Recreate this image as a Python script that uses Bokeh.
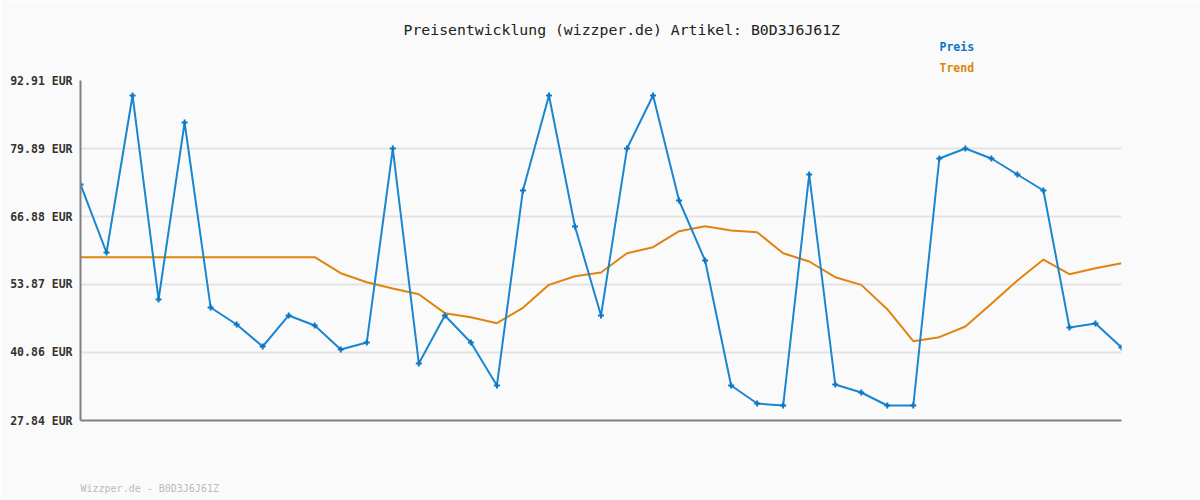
from bokeh.plotting import figure
from bokeh.models import Range1d, FixedTicker, PrintfTickFormatter, Title, CustomJSTickFormatter
from bokeh.embed import file_html
from bokeh.resources import INLINE

# Data
idx = list(range(41))
preis = [73.01, 59.99, 90.04, 51.00, 84.87, 49.47, 46.21, 42.00, 47.94, 46.02,
         41.43, 42.77, 79.89, 38.75, 47.94, 42.77, 34.54, 71.86, 90.04, 64.97,
         47.94, 79.89, 90.04, 69.94, 58.46, 34.54, 31.09, 30.71, 74.92, 34.73,
         33.20, 30.71, 30.71, 77.98, 79.89, 77.98, 74.92, 71.86, 45.64, 46.40,
         41.81]
trend = [59.09, 59.09, 59.09, 59.09, 59.09, 59.09, 59.09, 59.09, 59.09, 59.09,
         56.03, 54.31, 53.10, 52.01, 48.38, 47.61, 46.47, 49.40, 53.80, 55.46,
         56.16, 59.86, 61.01, 64.07, 65.03, 64.20, 63.88, 59.86, 58.27, 55.27,
         53.80, 49.14, 43.02, 43.79, 45.83, 50.17, 54.63, 58.65, 55.84, 56.99,
         57.95]
y_ticks = [27.84, 40.86, 53.87, 66.88, 79.89, 92.91]
title_text = "Preisentwicklung (wizzper.de) Artikel: B0D3J6J61Z"
footer_text = "Wizzper.de - B0D3J6J61Z"
legend_names = ["Preis", "Trend"]

BG = "#fafafa"
BLUE = "#1a86d0"
BLUE_DARK = "#0a76c6"
ORANGE = "#e0840f"
FONT = "DejaVu Sans Mono"

FRAME_W = 1200 - 80 - 79
p = figure(width=1200, height=500, output_backend="svg", toolbar_location=None,
           x_range=Range1d(0, 40), y_range=Range1d(y_ticks[0], y_ticks[-1]),
           min_border_left=80, min_border_right=79, min_border_top=80, min_border_bottom=80)
p.background_fill_color = BG
p.border_fill_color = BG
p.outline_line_color = None

p.xgrid.grid_line_color = None
p.ygrid.grid_line_color = "#e4e4e4"
p.ygrid.grid_line_width = 2
p.yaxis.ticker = FixedTicker(ticks=y_ticks)
p.ygrid.ticker = FixedTicker(ticks=y_ticks)
p.yaxis.formatter = PrintfTickFormatter(format="%.2f EUR")
p.yaxis.major_tick_line_color = None
p.yaxis.minor_tick_line_color = None
p.yaxis.axis_line_color = "#808080"
p.yaxis.axis_line_width = 2
p.yaxis.major_label_text_font = FONT
p.yaxis.major_label_text_font_size = "11.5px"
p.yaxis.major_label_text_font_style = "bold"
p.yaxis.major_label_text_color = "#333333"
p.yaxis.major_label_standoff = 2

# x axis: no ticks; the footer is shown as a single label whose left edge
# sits at the left edge of the frame (label is centred on its tick)
footer_px_half = len(footer_text) * 0.602 * 10 / 2
footer_tick = footer_px_half / (FRAME_W / (idx[-1] - idx[0]))
p.xaxis.ticker = FixedTicker(ticks=[footer_tick])
p.xaxis.formatter = CustomJSTickFormatter(args=dict(t=footer_text), code="return t;")
p.xaxis.major_label_standoff = 56
p.xaxis.major_label_text_font = FONT
p.xaxis.major_label_text_font_size = "10px"
p.xaxis.major_label_text_color = "#bbbbbb"
p.xaxis.major_tick_line_color = None
p.xaxis.minor_tick_line_color = None
p.xaxis.axis_line_color = "#808080"
p.xaxis.axis_line_width = 2

p.line(idx, trend, line_color=ORANGE, line_width=2)
p.line(idx, preis, line_color=BLUE, line_width=2)
p.scatter(idx, preis, marker="cross", size=6, line_color=BLUE_DARK, line_width=2)

# Titles stacked above the frame: first added is closest to the frame
p.add_layout(Title(text=legend_names[1], align="left", offset=859, standoff=11,
                   text_font=FONT, text_font_size="11.5px", text_font_style="bold",
                   text_color=ORANGE), "above")
p.add_layout(Title(text=legend_names[0], align="left", offset=859, standoff=0,
                   text_font=FONT, text_font_size="11.5px", text_font_style="bold",
                   text_color=BLUE_DARK), "above")
p.add_layout(Title(text=title_text, align="left", offset=323, standoff=0,
                   text_font=FONT, text_font_size="14.8px", text_font_style="normal",
                   text_color="#222222"), "above")

html = file_html(p, INLINE)
html = html.replace("<body>", '<body style="background:#fafafa">', 1)
open("out.html", "w").write(html)
